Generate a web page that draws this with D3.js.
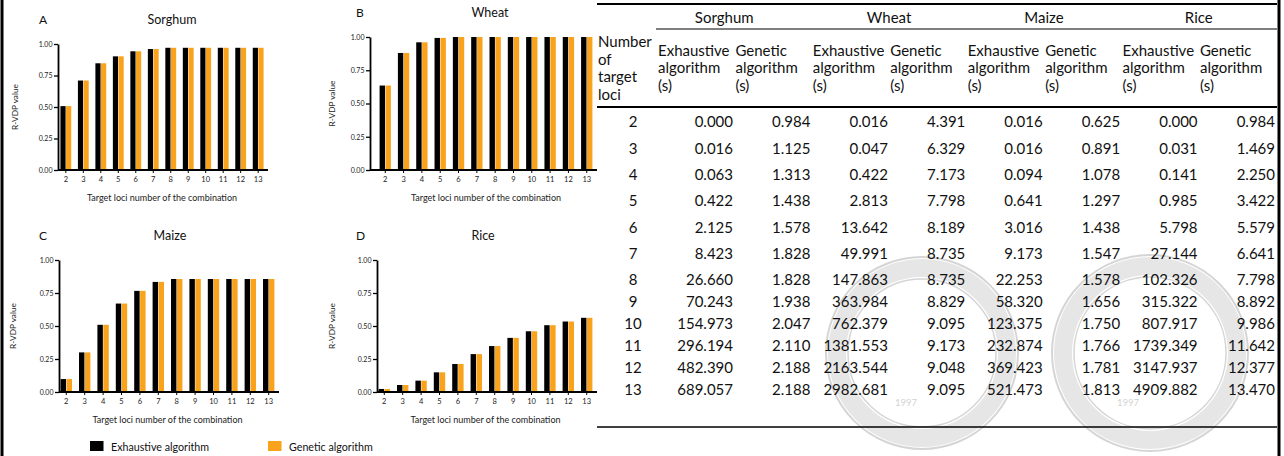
<!DOCTYPE html>
<html lang="en">
<head>
<meta charset="UTF-8">
<title>R-VDP comparison</title>
<style>
  body { margin: 0; background: #fff; }
  #svg { display: block; font-family: Lato, "Open Sans", sans-serif; }
</style>
<script src="https://d3js.org/d3.v7.min.js"></script>
</head>
<body>
<svg id="svg"></svg>
<script>
const width = 1284;
const height = 456;

// ---- chart data ----
const loci = [2, 3, 4, 5, 6, 7, 8, 9, 10, 11, 12, 13];
const seriesNames = ["Exhaustive algorithm", "Genetic algorithm"];
const seriesColors = ["#000000", "#f9a21b"];
const yTicks = [0, 0.25, 0.5, 0.75, 1];

const sorghumExh = [0.507, 0.71, 0.847, 0.902, 0.942, 0.96, 0.97, 0.97, 0.97, 0.97, 0.97, 0.97];
const sorghumGen = [0.507, 0.71, 0.847, 0.902, 0.942, 0.96, 0.97, 0.97, 0.97, 0.97, 0.97, 0.97];
const wheatExh = [0.635, 0.88, 0.96, 0.993, 1, 1, 1, 1, 1, 1, 1, 1];
const wheatGen = [0.635, 0.88, 0.96, 0.993, 1, 1, 1, 1, 1, 1, 1, 1];
const maizeExh = [0.098, 0.30, 0.509, 0.67, 0.766, 0.834, 0.856, 0.856, 0.856, 0.856, 0.856, 0.856];
const maizeGen = [0.098, 0.30, 0.509, 0.67, 0.766, 0.834, 0.856, 0.856, 0.856, 0.856, 0.856, 0.856];
const riceExh = [0.023, 0.053, 0.086, 0.149, 0.212, 0.287, 0.348, 0.41, 0.46, 0.506, 0.534, 0.562];
const riceGen = [0.023, 0.053, 0.086, 0.149, 0.212, 0.287, 0.348, 0.41, 0.46, 0.506, 0.534, 0.562];

// ---- table data (seconds) ----
const crops = ["Sorghum", "Wheat", "Maize", "Rice"];
const tableRows = [2, 3, 4, 5, 6, 7, 8, 9, 10, 11, 12, 13];
const sorghumExhTime = [0.000, 0.016, 0.063, 0.422, 2.125, 8.423, 26.660, 70.243, 154.973, 296.194, 482.390, 689.057];
const sorghumGenTime = [0.984, 1.125, 1.313, 1.438, 1.578, 1.828, 1.828, 1.938, 2.047, 2.110, 2.188, 2.188];
const wheatExhTime = [0.016, 0.047, 0.422, 2.813, 13.642, 49.991, 147.863, 363.984, 762.379, 1381.553, 2163.544, 2982.681];
const wheatGenTime = [4.391, 6.329, 7.173, 7.798, 8.189, 8.735, 8.735, 8.829, 9.095, 9.173, 9.048, 9.095];
const maizeExhTime = [0.016, 0.016, 0.094, 0.641, 3.016, 9.173, 22.253, 58.320, 123.375, 232.874, 369.423, 521.473];
const maizeGenTime = [0.625, 0.891, 1.078, 1.297, 1.438, 1.547, 1.578, 1.656, 1.750, 1.766, 1.781, 1.813];
const riceExhTime = [0.000, 0.031, 0.141, 0.985, 5.798, 27.144, 102.326, 315.322, 807.917, 1739.349, 3147.937, 4909.882];
const riceGenTime = [0.984, 1.469, 2.250, 3.422, 5.579, 6.641, 7.798, 8.892, 9.986, 11.642, 12.377, 13.470];

const svg = d3.select('#svg')
    .attr('width', width)
    .attr('height', height);

// faint watermark seals behind the table
const seals = [{ cx: 922, cy: 353, r: 96, yearX: 906 }, { cx: 1150, cy: 353, r: 98, yearX: 1128 }];
const wm = svg.append('g').attr('opacity', 0.75);
seals.forEach(s => {
    wm.append('circle').attr('cx', s.cx).attr('cy', s.cy).attr('r', s.r)
        .attr('fill', 'none').attr('stroke', '#c8c8c8').attr('stroke-width', 2);
    wm.append('circle').attr('cx', s.cx).attr('cy', s.cy).attr('r', s.r - 11)
        .attr('fill', 'none').attr('stroke', '#dedede').attr('stroke-width', 18);
    wm.append('circle').attr('cx', s.cx).attr('cy', s.cy).attr('r', s.r - 22)
        .attr('fill', 'none').attr('stroke', '#c8c8c8').attr('stroke-width', 1.5);
    wm.append('text').attr('x', s.yearX).attr('y', 406)
        .attr('text-anchor', 'middle').attr('font-size', 9.5).attr('fill', '#c4c4c4')
        .text('1997');
});

// ---- bar panels ----
const panels = [
    { letter: 'A', crop: 'Sorghum', values: [sorghumExh, sorghumGen], axisX: 58, band: [57, 267], yTop: 44, yBot: 170, letterX: 39, titleX: 172, yLabelX: 15 },
    { letter: 'B', crop: 'Wheat', values: [wheatExh, wheatGen], axisX: 370, band: [376, 596], yTop: 37, yBot: 170, letterX: 356, titleX: 490, yLabelX: 332 },
    { letter: 'C', crop: 'Maize', values: [maizeExh, maizeGen], axisX: 59, band: [57, 278], yTop: 260, yBot: 392, letterX: 39, titleX: 170, yLabelX: 13 },
    { letter: 'D', crop: 'Rice', values: [riceExh, riceGen], axisX: 377, band: [375, 596], yTop: 260, yBot: 392, letterX: 356, titleX: 483, yLabelX: 332 }
];

panels.forEach(p => {
    const g = svg.append('g');
    const x = d3.scaleBand().domain(loci).range(p.band).paddingInner(0.33).paddingOuter(0.17);
    const xs = d3.scaleBand().domain([0, 1]).range([0, x.bandwidth()]).padding(0.08);
    const y = d3.scaleLinear().domain([0, 1]).range([p.yBot, p.yTop]);

    loci.forEach((l, i) => {
        g.selectAll(null)
            .data(p.values.map((v, s) => ({ s: s, v: v[i] })))
            .enter()
            .append('rect')
            .attr('x', d => x(l) + xs(d.s))
            .attr('width', xs.bandwidth())
            .attr('y', d => y(d.v))
            .attr('height', d => y(0) - y(d.v))
            .attr('fill', d => seriesColors[d.s]);
    });

    const ya = g.append('g')
        .attr('transform', 'translate(' + p.axisX + ',0)')
        .call(d3.axisLeft(y).tickValues(yTicks).tickFormat(d3.format('.2f')).tickSizeInner(4).tickSizeOuter(0).tickPadding(1.5));
    ya.select('.domain').attr('stroke-width', 1.8);
    ya.selectAll('.tick line').attr('stroke-width', 1.3);
    ya.selectAll('.tick text').attr('font-size', 7).attr('font-family', 'Lato').attr('fill', '#222');

    const xa = g.append('g')
        .attr('transform', 'translate(0,' + p.yBot + ')')
        .call(d3.axisBottom(x).tickSizeInner(3).tickSizeOuter(0).tickPadding(4));
    xa.select('.domain').remove();
    xa.selectAll('.tick line').attr('stroke-width', 1);
    xa.selectAll('.tick text').attr('font-size', 7.5).attr('font-family', 'Lato').attr('fill', '#222');
    g.append('line')
        .attr('x1', p.axisX).attr('x2', p.band[1] + 1)
        .attr('y1', p.yBot).attr('y2', p.yBot)
        .attr('stroke', '#000').attr('stroke-width', 1.8);

    g.append('text').attr('x', p.letterX).attr('y', p.yTop - 20)
        .attr('font-size', 12).attr('fill', '#111').text(p.letter);
    g.append('text').attr('x', p.titleX).attr('y', p.yTop - 20)
        .attr('text-anchor', 'middle').attr('font-size', 12.5).attr('fill', '#111').text(p.crop);
    g.append('text').attr('x', (p.band[0] + p.band[1]) / 2).attr('y', p.yBot + 31)
        .attr('text-anchor', 'middle').attr('font-size', 9).attr('fill', '#222')
        .text('Target loci number of the combination');
    g.append('text')
        .attr('transform', 'translate(' + p.yLabelX + ',' + ((p.yTop + p.yBot) / 2) + ') rotate(-90)')
        .attr('text-anchor', 'middle').attr('dy', '0.35em')
        .attr('font-size', 8.3).attr('fill', '#222').text('R-VDP value');
});

// legend
const legendX = [90, 268];
const legend = svg.selectAll('.legend')
    .data(seriesNames)
    .enter()
    .append('g')
    .attr('class', 'legend')
    .attr('transform', (d, i) => 'translate(' + legendX[i] + ',441)');
legend.append('rect').attr('width', 13.5).attr('height', 10).attr('fill', (d, i) => seriesColors[i]);
legend.append('text').attr('x', 21).attr('y', 9.5).attr('font-size', 10.7).attr('fill', '#111').text(d => d);

// ---- table ----
const tbl = svg.append('g').attr('font-size', 15).attr('fill', '#111');
const tableLeft = 597, tableRight = 1277;
const timeCols = [sorghumExhTime, sorghumGenTime, wheatExhTime, wheatGenTime, maizeExhTime, maizeGenTime, riceExhTime, riceGenTime];
const colRight = d3.scaleLinear().domain([0, 7]).range([733, 1275]);
// the scanned table is a little squeezed towards its bottom
const rowY = d3.scaleLinear().domain([2, 8, 13]).range([122, 280, 390]);
const fmt = d3.format('.3f');

function hline(yy, x1, w) {
    tbl.append('line').attr('x1', x1).attr('x2', tableRight).attr('y1', yy).attr('y2', yy)
        .attr('stroke', '#000').attr('stroke-width', w);
}
hline(4, tableLeft, 2);
hline(29, 656, 1.2);
hline(107, tableLeft, 2);
hline(427, tableLeft, 1.5);

crops.forEach((c, i) => {
    tbl.append('text')
        .attr('x', (colRight(2 * i) - 75 + colRight(2 * i + 1)) / 2 - (i === 0 ? 10 : 0))
        .attr('y', 23)
        .attr('text-anchor', 'middle')
        .text(c);
});

const numberLines = ['Number', 'of', 'target', 'loci'];
numberLines.forEach((t, i) => {
    tbl.append('text').attr('x', tableLeft + 1).attr('y', 47 + i * 17.7).text(t);
});
const subLines = [['Exhaustive', 'algorithm', '(s)'], ['Genetic', 'algorithm', '(s)']];
timeCols.forEach((col, j) => {
    subLines[j % 2].forEach((t, i) => {
        tbl.append('text').attr('x', colRight(j) - 75).attr('y', 55.5 + i * 17.7).text(t);
    });
});

tableRows.forEach((r, i) => {
    tbl.append('text').attr('x', 633).attr('y', rowY(r)).attr('dy', '0.36em')
        .attr('text-anchor', 'middle').text(r);
    timeCols.forEach((col, j) => {
        tbl.append('text').attr('x', colRight(j)).attr('y', rowY(r)).attr('dy', '0.36em')
            .attr('text-anchor', 'end').text(fmt(col[i]));
    });
});

// outer frame sides
svg.append('line').attr('x1', 2).attr('x2', 2).attr('y1', 0).attr('y2', height)
    .attr('stroke', '#000').attr('stroke-width', 3);
svg.append('line').attr('x1', 1279).attr('x2', 1279).attr('y1', 0).attr('y2', height)
    .attr('stroke', '#000').attr('stroke-width', 3);
</script>
</body>
</html>
